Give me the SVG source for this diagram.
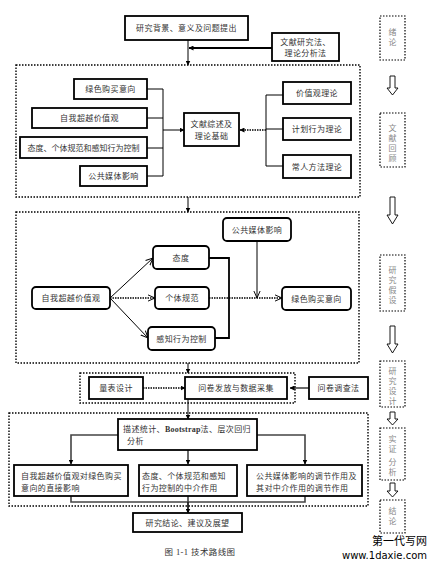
<svg xmlns="http://www.w3.org/2000/svg" width="437" height="567" viewBox="0 0 437 567">
<defs>
<style>
.t{font-family:"Liberation Serif","Noto Sans CJK SC",serif;font-size:8px;fill:#333;text-anchor:middle;letter-spacing:0.4px}
.tl{font-family:"Liberation Serif","Noto Sans CJK SC",serif;font-size:8px;fill:#333;letter-spacing:0.4px}
.tv{font-family:"Liberation Serif","Noto Sans CJK SC",serif;font-size:8px;fill:#888;text-anchor:middle}
.b{fill:#fff;stroke:#000;stroke-width:1.8}
.r{fill:#fff;stroke:#000;stroke-width:1.8}
.d{fill:none;stroke:#000;stroke-width:1.4;stroke-dasharray:1.5 1.5}
.dv{fill:#fff;stroke:#000;stroke-width:1.2;stroke-dasharray:1.5 1.5}
.l{fill:none;stroke:#000;stroke-width:1}
.lg{fill:none;stroke:#444;stroke-width:1.6}
.lb{fill:none;stroke:#000;stroke-width:1.8}
.ld{fill:none;stroke:#000;stroke-width:1.6;stroke-dasharray:1.5 1}
.ha{fill:#fff;stroke:#000;stroke-width:0.9}
</style>
<marker id="a" viewBox="0 0 10 10" refX="9" refY="5" markerWidth="5" markerHeight="5" orient="auto" markerUnits="userSpaceOnUse">
<path d="M0,0 L10,5 L0,10 Z" fill="#000"/>
</marker>
<marker id="o" viewBox="0 0 10 10" refX="9" refY="5" markerWidth="8" markerHeight="8" orient="auto" markerUnits="userSpaceOnUse">
<path d="M0,1 L9,5 L0,9" fill="none" stroke="#000" stroke-width="1.2"/>
</marker>
</defs>

<g id="connectors">
<path class="l" d="M188,40 V65" marker-end="url(#a)"/>
<path class="lb" d="M272,48 H189" marker-end="url(#a)"/>
<path class="l" d="M147,89 H163 M147,118 H163 M147,148 H163 M147,176 H163 M163,89 V176"/>
<path class="l" d="M163,130 H184" marker-end="url(#a)"/>
<path class="l" d="M283,95 H266 M283,129 H266 M283,166 H266 M266,95 V166"/>
<path class="ld" d="M266,130 H240" marker-end="url(#a)"/>
<path class="l" d="M188,197 V212" marker-end="url(#a)"/>
<path class="l" d="M110,298 L153,258" marker-end="url(#o)"/>
<path class="ld" d="M110,298 H155" marker-end="url(#o)"/>
<path class="l" d="M110,298 L148,338" marker-end="url(#o)"/>
<path class="lb" d="M209,258 H229 V338 H215"/>
<path class="ld" d="M209,298 H282" marker-end="url(#o)"/>
<path class="l" d="M257,241 V298" marker-end="url(#o)"/>
<path class="l" d="M188,363 V373" marker-end="url(#a)"/>
<path class="ld" d="M143,388 H185" marker-end="url(#a)"/>
<path class="lg" d="M309,388 H290" marker-end="url(#a)"/>
<path class="l" d="M188,399 V419" marker-end="url(#a)"/>
<path class="lg" d="M118,435 H71 V464" marker-end="url(#a)"/>
<path class="lg" d="M257,435 H305 V464" marker-end="url(#a)"/>
<path class="lg" d="M188,450 V464" marker-end="url(#a)"/>
<path class="lg" d="M71,496 V502 H305 V496 M188,496 V512"/>
<path class="l" d="M188,502 V513" marker-end="url(#a)"/>
</g>

<g id="frames">
<rect class="d" x="16" y="65" width="344" height="132"/>
<rect class="d" x="16" y="212" width="343" height="151"/>
<rect class="d" x="80" y="373" width="215" height="30"/>
<rect class="d" x="9" y="413" width="359" height="93"/>
</g>

<g id="n-top"><rect class="b" x="125" y="16" width="123" height="24"/><text class="t" x="186.5" y="31">研究背景、意义及问题提出</text></g>
<g id="n-method1"><rect class="b" x="272" y="33" width="67" height="28"/><text class="t" x="305.5" y="45">文献研究法、</text><text class="t" x="305.5" y="56">理论分析法</text></g>

<g id="n-l1"><rect class="b" x="74" y="79" width="73" height="20"/><text class="t" x="110.5" y="92">绿色购买意向</text></g>
<g id="n-l2"><rect class="b" x="32" y="108" width="115" height="20"/><text class="t" x="89.5" y="121">自我超越价值观</text></g>
<g id="n-l3"><rect class="b" x="20" y="137" width="127" height="21"/><text class="t" x="83.5" y="150.5" style="letter-spacing:0">态度、个体规范和感知行为控制</text></g>
<g id="n-l4"><rect class="b" x="80" y="166" width="67" height="20"/><text class="t" x="113.5" y="179">公共媒体影响</text></g>
<g id="n-c"><rect class="b" x="184" y="113" width="55" height="33"/><text class="t" x="211.5" y="127">文献综述及</text><text class="t" x="211.5" y="139">理论基础</text></g>
<g id="n-r1"><rect class="b" x="283" y="82" width="68" height="22"/><text class="t" x="317" y="96">价值观理论</text></g>
<g id="n-r2"><rect class="b" x="283" y="118" width="68" height="22"/><text class="t" x="317" y="132">计划行为理论</text></g>
<g id="n-r3"><rect class="b" x="283" y="155" width="68" height="23"/><text class="t" x="317" y="169.5">常人方法理论</text></g>

<g id="n-media"><rect class="r" x="223" y="218" width="68" height="23" rx="4"/><text class="t" x="257" y="232.5">公共媒体影响</text></g>
<g id="n-att"><rect class="r" x="153" y="246" width="56" height="23" rx="4"/><text class="t" x="181" y="260.5">态度</text></g>
<g id="n-norm"><rect class="r" x="155" y="287" width="54" height="22" rx="4"/><text class="t" x="182" y="301">个体规范</text></g>
<g id="n-pbc"><rect class="r" x="148" y="327" width="67" height="23" rx="4"/><text class="t" x="181.5" y="341.5">感知行为控制</text></g>
<g id="n-self"><rect class="r" x="32" y="287" width="78" height="22" rx="4"/><text class="t" x="71" y="301">自我超越价值观</text></g>
<g id="n-gpi"><rect class="r" x="282" y="287" width="69" height="23" rx="4"/><text class="t" x="316.5" y="301.5">绿色购买意向</text></g>

<g id="n-scale"><rect class="b" x="89" y="377" width="54" height="22"/><text class="t" x="116" y="391">量表设计</text></g>
<g id="n-survey"><rect class="b" x="185" y="377" width="102" height="22"/><text class="t" x="236" y="391">问卷发放与数据采集</text></g>
<g id="n-qm"><rect class="b" x="309" y="377" width="59" height="22"/><text class="t" x="338.5" y="391">问卷调查法</text></g>

<g id="n-stat"><rect class="b" x="118" y="419" width="139" height="31"/><text class="tl" x="123" y="432">描述统计、<tspan font-weight="bold" style="letter-spacing:0.2px">Bootstrap</tspan>法、层次回归</text><text class="tl" x="127" y="444">分析</text></g>
<g id="n-ra"><rect class="b" x="14" y="465" width="114" height="31"/><text class="tl" x="21" y="479">自我超越价值观对绿色购买</text><text class="tl" x="21" y="491">意向的直接影响</text></g>
<g id="n-rb"><rect class="b" x="139" y="465" width="98" height="31"/><text class="tl" x="142" y="479">态度、个体规范和感知</text><text class="tl" x="142" y="491">行为控制的中介作用</text></g>
<g id="n-rc"><rect class="b" x="247" y="465" width="115" height="31"/><text class="tl" x="256" y="479">公共媒体影响的调节作用及</text><text class="tl" x="256" y="491">其对中介作用的调节作用</text></g>
<g id="n-end"><rect class="b" x="133" y="513" width="109" height="19"/><text class="t" x="187.5" y="525.5">研究结论、建议及展望</text></g>

<g id="stages">
<rect class="dv" x="380" y="16" width="25" height="44"/><text class="tv" x="392.5" y="35">绪</text><text class="tv" x="392.5" y="45">论</text>
<polygon class="ha" points="390,76 395,76 395,88 398,88 392.5,95 387,88 390,88"/>
<rect class="dv" x="380" y="113" width="25" height="54"/><text class="tv" x="392.5" y="131">文</text><text class="tv" x="392.5" y="141">献</text><text class="tv" x="392.5" y="151">回</text><text class="tv" x="392.5" y="161">顾</text>
<polygon class="ha" points="390,197 395,197 395,215 398,215 392.5,224 387,215 390,215"/>
<rect class="dv" x="380" y="255" width="25" height="56"/><text class="tv" x="392.5" y="273">研</text><text class="tv" x="392.5" y="283">究</text><text class="tv" x="392.5" y="293">假</text><text class="tv" x="392.5" y="303">设</text>
<polygon class="ha" points="390,326 395,326 395,344 398,344 392.5,353 387,344 390,344"/>
<rect class="dv" x="380" y="361" width="25" height="46"/><text class="tv" x="392.5" y="374">研</text><text class="tv" x="392.5" y="384">究</text><text class="tv" x="392.5" y="394">设</text><text class="tv" x="392.5" y="404">计</text>
<polygon class="ha" points="390,412 395,412 395,419 398,419 392.5,425 387,419 390,419"/>
<rect class="dv" x="380" y="428" width="25" height="52"/><text class="tv" x="392.5" y="442">实</text><text class="tv" x="392.5" y="452">证</text><text class="tv" x="392.5" y="465">分</text><text class="tv" x="392.5" y="475">析</text>
<polygon class="ha" points="390,483 395,483 395,491 398,491 392.5,497 387,491 390,491"/>
<rect class="dv" x="380" y="500" width="25" height="33"/><text class="tv" x="392.5" y="514">结</text><text class="tv" x="392.5" y="524">论</text>
</g>

<text class="t" x="200" y="555" style="font-size:8.5px">图 1-1 技术路线图</text>
<text x="427" y="545" style="font-family:'Noto Sans CJK SC',sans-serif;font-size:11px;fill:#000;text-anchor:end">第一代写网</text>
<text x="427" y="559" style="font-family:'DejaVu Sans',sans-serif;font-size:10px;fill:#000;text-anchor:end">www.1daxie.com</text>
</svg>
